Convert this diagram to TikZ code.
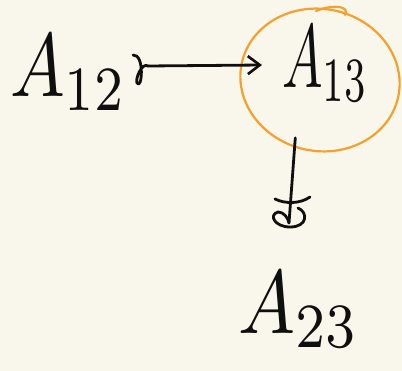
\documentclass[tikz,border=0pt]{standalone}
\usetikzlibrary{shapes.geometric,arrows.meta}
\definecolor{paper}{RGB}{249,247,235}
\definecolor{marker}{RGB}{245,160,45}
\definecolor{ink}{RGB}{15,15,15}
\newcommand{\hwlabel}[2]{\scalebox{#1}[9]{$#2$}}
\tikzset{
  lbl/.style={inner sep=0pt, anchor=base west, text=ink},
  pen/.style={draw=ink, line width=2.8pt, line cap=round, line join=round},
  ring/.style={draw=marker, line width=2.2pt, ellipse, inner sep=0pt},
}
\begin{document}
\begin{tikzpicture}[x=1pt,y=-1pt]
\fill[paper] (0,0) rectangle (402,371);
\useasboundingbox (0,0) rectangle (402,371);
% labels
\node[lbl] (A12) at (10,97) {\hwlabel{7.3}{A_{12}}};
\node[lbl] (A13) at (282,88) {\hwlabel{5.4}{A_{13}}};
\node[lbl] (A23) at (238,334) {\hwlabel{7.6}{A_{23}}};
% orange circle around A13
\node[ring, minimum width=160pt, minimum height=142pt, rotate=-12] (E) at (320,80) {};
\draw[marker, line width=2.2pt, line cap=round] (316,11) .. controls (334,4) and (350,6) .. (345,15);
% arrow A12 -> A13 with curled tail
\coordinate (tail) at ([xshift=21pt,yshift=7pt]A12.east);
\coordinate (tip) at ([xshift=-20pt,yshift=-1pt]A13.west);
\draw[pen] ([xshift=-15pt,yshift=11pt]tail) .. controls +(12,-1) and +(5,8) .. ([xshift=-11pt,yshift=-17pt]tail)
      .. controls +(-2,-4) and +(-6,-4) .. (tail);
\draw[pen, -{Straight Barb[length=12pt,width=18pt,line width=2.6pt]}] (tail) -- (tip);
% down connector from the circle, ending in a stop mark
\coordinate (stopc) at (289,223);
\draw[pen] ([yshift=10pt]E.262) -- (stopc);
\draw[pen] (275,199) .. controls (285,204) and (300,204) .. (310,197);
\draw[pen] (298,208) .. controls (308,212) and (308,227) .. (290,227)
      .. controls (275,227) and (268,215) .. (278,212)
      .. controls (284,212) and (288,218) .. (stopc);
\end{tikzpicture}
\end{document}
